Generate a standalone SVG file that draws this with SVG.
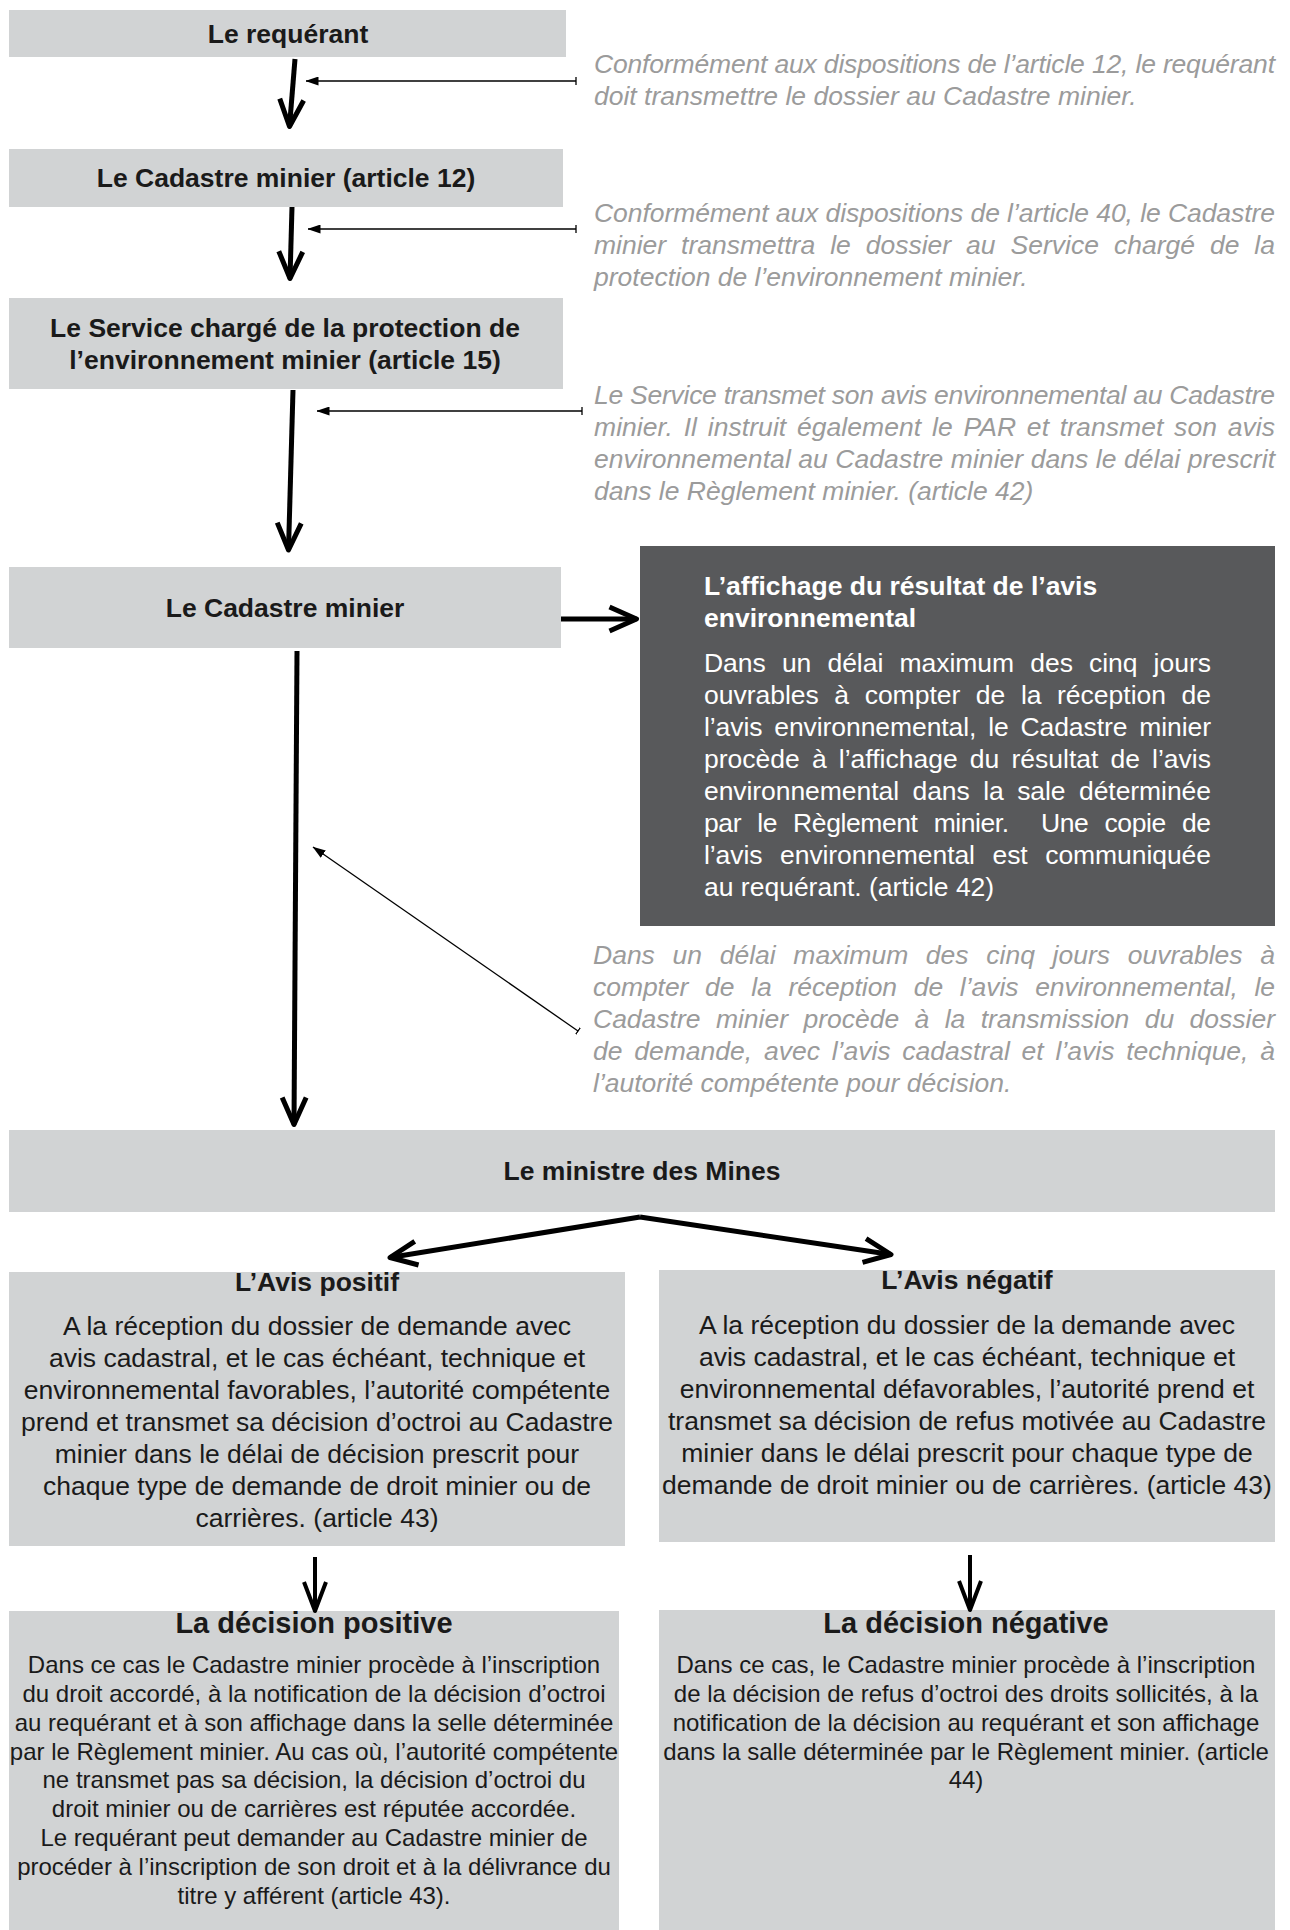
<svg xmlns="http://www.w3.org/2000/svg" width="1290" height="1930" viewBox="0 0 1290 1930">
<defs>
<style>
text { font-family: "Liberation Sans", Arial, sans-serif; }
.box { fill: #d1d3d4; }
.dark { fill: #58595b; }
.h { font-weight: bold; font-size: 26.5px; fill: #1a1a1a; text-anchor: middle; }
.h2 { font-weight: bold; font-size: 29px; fill: #1a1a1a; text-anchor: middle; }
.hw { font-weight: bold; font-size: 26.5px; fill: #ffffff; }
.bw { font-size: 26.5px; fill: #ffffff; }
.bc { font-size: 26.5px; fill: #1a1a1a; text-anchor: middle; }
.sc { font-size: 24px; fill: #1a1a1a; text-anchor: middle; }
.note { font-size: 26.5px; font-style: italic; fill: #9b9b9b; }
.thick { stroke: #000; stroke-width: 5; fill: none; marker-end: url(#vh); }
.mid { stroke: #000; stroke-width: 4; fill: none; marker-end: url(#vh2); }
.thin { stroke: #000; stroke-width: 1.3; fill: none; marker-start: url(#tick); marker-end: url(#tri); }
</style>
<marker id="vh" markerUnits="userSpaceOnUse" viewBox="0 0 34 30" markerWidth="34" markerHeight="30" refX="30" refY="15" orient="auto" overflow="visible">
<path d="M3,3 L30,15 L3,27" fill="none" stroke="#000" stroke-width="5" stroke-linejoin="round"/>
</marker>
<marker id="vh2" markerUnits="userSpaceOnUse" viewBox="0 0 34 26" markerWidth="34" markerHeight="26" refX="31" refY="13" orient="auto" overflow="visible">
<path d="M2,2 L31,13 L2,24" fill="none" stroke="#000" stroke-width="4" stroke-linejoin="round"/>
</marker>
<marker id="tri" markerUnits="userSpaceOnUse" viewBox="0 0 13 9" markerWidth="13" markerHeight="9" refX="12.5" refY="4.5" orient="auto">
<path d="M0,0 L13,4.5 L0,9 Z" fill="#000"/>
</marker>
<marker id="tick" markerUnits="userSpaceOnUse" viewBox="0 0 2 8" markerWidth="2" markerHeight="8" refX="1" refY="4" orient="auto">
<path d="M1,0 L1,8" stroke="#000" stroke-width="1.3"/>
</marker>
</defs>

<rect width="1290" height="1930" fill="#ffffff"/>

<g id="n-requerant">
<rect class="box" x="9" y="10" width="557" height="47"/>
<text class="h" x="288" y="43">Le requérant</text>
</g>

<g id="n-cadastre-12">
<rect class="box" x="9" y="149" width="554" height="58"/>
<text class="h" x="286" y="187">Le Cadastre minier (article 12)</text>
</g>

<g id="n-service">
<rect class="box" x="9" y="298" width="554" height="91"/>
<text class="h" x="285" y="337">Le Service chargé de la protection de</text>
<text class="h" x="285" y="369">l’environnement minier (article 15)</text>
</g>

<g id="n-cadastre">
<rect class="box" x="9" y="567" width="552" height="81"/>
<text class="h" x="285" y="617">Le Cadastre minier</text>
</g>

<g id="n-affichage">
<rect class="dark" x="640" y="546" width="635" height="380"/>
<text class="hw" x="704" y="595">L’affichage du résultat de l’avis</text>
<text class="hw" x="704" y="627">environnemental</text>
<text class="bw" x="704" y="672" word-spacing="8.7" textLength="507" lengthAdjust="spacing">Dans un délai maximum des cinq jours</text>
<text class="bw" x="704" y="704" word-spacing="8.2" textLength="507" lengthAdjust="spacing">ouvrables à compter de la réception de</text>
<text class="bw" x="704" y="736" word-spacing="4.5" textLength="507" lengthAdjust="spacing">l’avis environnemental, le Cadastre minier</text>
<text class="bw" x="704" y="768" word-spacing="4.7" textLength="507" lengthAdjust="spacing">procède à l’affichage du résultat de l’avis</text>
<text class="bw" x="704" y="800" word-spacing="6.2" textLength="507" lengthAdjust="spacing">environnemental dans la sale déterminée</text>
<text class="bw" x="704" y="832" word-spacing="9.2" textLength="507" lengthAdjust="spacing" xml:space="preserve">par le Règlement minier.  Une copie de</text>
<text class="bw" x="704" y="864" word-spacing="10.3" textLength="507" lengthAdjust="spacing">l’avis environnemental est communiquée</text>
<text class="bw" x="704" y="896">au requérant. (article 42)</text>
</g>

<g id="n-note-1">
<text class="note" x="594" y="73" textLength="681" lengthAdjust="spacing">Conformément aux dispositions de l’article 12, le requérant</text>
<text class="note" x="594" y="105">doit transmettre le dossier au Cadastre minier.</text>
</g>

<g id="n-note-2">
<text class="note" x="594" y="222" textLength="681" lengthAdjust="spacing">Conformément aux dispositions de l’article 40, le Cadastre</text>
<text class="note" x="594" y="254" word-spacing="7.6" textLength="681" lengthAdjust="spacing">minier transmettra le dossier au Service chargé de la</text>
<text class="note" x="594" y="286">protection de l’environnement minier.</text>
</g>

<g id="n-note-3">
<text class="note" x="594" y="404" textLength="681" lengthAdjust="spacing">Le Service transmet son avis environnemental au Cadastre</text>
<text class="note" x="594" y="436" word-spacing="3.3" textLength="681" lengthAdjust="spacing">minier. Il instruit également le PAR et transmet son avis</text>
<text class="note" x="594" y="468" textLength="681" lengthAdjust="spacing">environnemental au Cadastre minier dans le délai prescrit</text>
<text class="note" x="594" y="500">dans le Règlement minier. (article 42)</text>
</g>

<g id="n-note-4">
<text class="note" x="593" y="964" word-spacing="10.3" textLength="682" lengthAdjust="spacing">Dans un délai maximum des cinq jours ouvrables à</text>
<text class="note" x="593" y="996" word-spacing="9.4" textLength="682" lengthAdjust="spacing">compter de la réception de l’avis environnemental, le</text>
<text class="note" x="593" y="1028" word-spacing="8" textLength="682" lengthAdjust="spacing">Cadastre minier procède à la transmission du dossier</text>
<text class="note" x="593" y="1060" word-spacing="4.4" textLength="682" lengthAdjust="spacing">de demande, avec l’avis cadastral et l’avis technique, à</text>
<text class="note" x="593" y="1092">l’autorité compétente pour décision.</text>
</g>

<g id="n-ministre">
<rect class="box" x="9" y="1130" width="1266" height="82"/>
<text class="h" x="642" y="1180">Le ministre des Mines</text>
</g>

<g id="n-avis-positif">
<rect class="box" x="9" y="1272" width="616" height="274"/>
<text class="h" x="317" y="1291">L’Avis positif</text>
<text class="bc" x="317" y="1335">A la réception du dossier de demande avec</text>
<text class="bc" x="317" y="1367">avis cadastral, et le cas échéant, technique et</text>
<text class="bc" x="317" y="1399">environnemental favorables, l’autorité compétente</text>
<text class="bc" x="317" y="1431">prend et transmet sa décision d’octroi au Cadastre</text>
<text class="bc" x="317" y="1463">minier dans le délai de décision prescrit pour</text>
<text class="bc" x="317" y="1495">chaque type de demande de droit minier ou de</text>
<text class="bc" x="317" y="1527">carrières. (article 43)</text>
</g>

<g id="n-avis-negatif">
<rect class="box" x="659" y="1270" width="616" height="272"/>
<text class="h" x="967" y="1289">L’Avis négatif</text>
<text class="bc" x="967" y="1334">A la réception du dossier de la demande avec</text>
<text class="bc" x="967" y="1366">avis cadastral, et le cas échéant, technique et</text>
<text class="bc" x="967" y="1398">environnemental défavorables, l’autorité prend et</text>
<text class="bc" x="967" y="1430">transmet sa décision de refus motivée au Cadastre</text>
<text class="bc" x="967" y="1462">minier dans le délai prescrit pour chaque type de</text>
<text class="bc" x="967" y="1494">demande de droit minier ou de carrières. (article 43)</text>
</g>

<g id="n-decision-positive">
<rect class="box" x="9" y="1611" width="610" height="319"/>
<text class="h2" x="314" y="1633">La décision positive</text>
<text class="sc" x="314" y="1673">Dans ce cas le Cadastre minier procède à l’inscription</text>
<text class="sc" x="314" y="1702">du droit accordé, à la notification de la décision d’octroi</text>
<text class="sc" x="314" y="1731">au requérant et à son affichage dans la selle déterminée</text>
<text class="sc" x="314" y="1760">par le Règlement minier. Au cas où, l’autorité compétente</text>
<text class="sc" x="314" y="1788">ne transmet pas sa décision, la décision d’octroi du</text>
<text class="sc" x="314" y="1817">droit minier ou de carrières est réputée accordée.</text>
<text class="sc" x="314" y="1846">Le requérant peut demander au Cadastre minier de</text>
<text class="sc" x="314" y="1875">procéder à l’inscription de son droit et à la délivrance du</text>
<text class="sc" x="314" y="1904">titre y afférent (article 43).</text>
</g>

<g id="n-decision-negative">
<rect class="box" x="659" y="1610" width="616" height="320"/>
<text class="h2" x="966" y="1633">La décision négative</text>
<text class="sc" x="966" y="1673">Dans ce cas, le Cadastre minier procède à l’inscription</text>
<text class="sc" x="966" y="1702">de la décision de refus d’octroi des droits sollicités, à la</text>
<text class="sc" x="966" y="1731">notification de la décision au requérant et son affichage</text>
<text class="sc" x="966" y="1760">dans la salle déterminée par le Règlement minier. (article</text>
<text class="sc" x="966" y="1788">44)</text>
</g>

<g id="connectors">
<path class="thick" d="M295,59 L289.5,126.5"/>
<path class="thick" d="M292,207 L290,278.5"/>
<path class="thick" d="M293,390 L288.5,550"/>
<path class="thick" d="M297,651 L294,1124.5"/>
<path class="thick" d="M561,619 L636.5,619"/>
<path class="thick" d="M640,1217 L390,1257.5"/>
<path class="thick" d="M640,1217 L891,1254.5"/>
<path class="mid" d="M315,1557 L315,1611"/>
<path class="mid" d="M970,1555 L970,1610"/>
<path class="thin" d="M576,81 L306,81"/>
<path class="thin" d="M576,229 L308,229"/>
<path class="thin" d="M582,411 L317,411"/>
<path class="thin" d="M578,1031 L313,847"/>
</g>
</svg>
